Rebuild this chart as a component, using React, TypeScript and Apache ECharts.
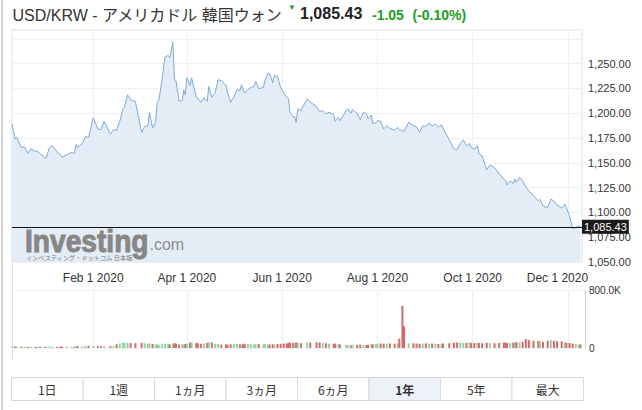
import React, { useEffect, useRef } from 'react';
import * as echarts from 'echarts';

const TITLE = 'USD/KRW - アメリカドル 韓国ウォン';
const LAST_PRICE = 1085.43;
const LAST_PRICE_TEXT = '1,085.43';
const CHANGE_TEXT = '-1.05';
const CHANGE_PCT_TEXT = '(-0.10%)';

const DATES = [
  '2019-12-11','2019-12-13','2019-12-14','2019-12-17','2019-12-19','2019-12-21','2019-12-23','2019-12-26','2019-12-27','2019-12-29',
  '2020-01-01','2020-01-02','2020-01-04','2020-01-06','2020-01-09','2020-01-11','2020-01-12','2020-01-15','2020-01-18','2020-01-20',
  '2020-01-21','2020-01-22','2020-01-25','2020-01-27','2020-01-29','2020-02-01','2020-02-04','2020-02-06','2020-02-08','2020-02-12',
  '2020-02-14','2020-02-16','2020-02-18','2020-02-20','2020-02-21','2020-02-23','2020-02-25','2020-02-28','2020-03-03','2020-03-05',
  '2020-03-07','2020-03-08','2020-03-10','2020-03-12','2020-03-13','2020-03-14','2020-03-16','2020-03-18','2020-03-20','2020-03-21',
  '2020-03-23','2020-03-24','2020-03-25','2020-03-27','2020-03-29','2020-03-30','2020-03-31','2020-04-01','2020-04-03','2020-04-04',
  '2020-04-07','2020-04-08','2020-04-10','2020-04-12','2020-04-14','2020-04-15','2020-04-17','2020-04-19','2020-04-21','2020-04-23',
  '2020-04-26','2020-04-27','2020-04-29','2020-05-01','2020-05-03','2020-05-05','2020-05-06','2020-05-07','2020-05-08','2020-05-10',
  '2020-05-12','2020-05-14','2020-05-15','2020-05-17','2020-05-20','2020-05-21','2020-05-23','2020-05-24','2020-05-26','2020-05-27',
  '2020-05-29','2020-05-31','2020-06-02','2020-06-04','2020-06-05','2020-06-06','2020-06-08','2020-06-09','2020-06-10','2020-06-11',
  '2020-06-13','2020-06-17','2020-06-19','2020-06-23','2020-06-25','2020-06-27','2020-06-29','2020-07-01','2020-07-04','2020-07-05',
  '2020-07-07','2020-07-08','2020-07-12','2020-07-13','2020-07-15','2020-07-16','2020-07-19','2020-07-21','2020-07-23','2020-07-25',
  '2020-07-26','2020-07-28','2020-07-29','2020-07-31','2020-08-01','2020-08-03','2020-08-05','2020-08-07','2020-08-09','2020-08-12',
  '2020-08-14','2020-08-15','2020-08-17','2020-08-18','2020-08-21','2020-08-24','2020-08-26','2020-08-28','2020-08-30','2020-09-01',
  '2020-09-03','2020-09-05','2020-09-07','2020-09-09','2020-09-11','2020-09-12','2020-09-16','2020-09-19','2020-09-21','2020-09-23',
  '2020-09-25','2020-09-27','2020-09-29','2020-09-30','2020-10-02','2020-10-04','2020-10-05','2020-10-07','2020-10-10','2020-10-12',
  '2020-10-15','2020-10-18','2020-10-21','2020-10-22','2020-10-23','2020-10-25','2020-10-27','2020-10-28','2020-10-29','2020-10-31',
  '2020-11-02','2020-11-04','2020-11-06','2020-11-09','2020-11-12','2020-11-13','2020-11-15','2020-11-18','2020-11-20','2020-11-22',
  '2020-11-24','2020-11-27','2020-11-29','2020-11-30','2020-12-02','2020-12-04','2020-12-06','2020-12-08','2020-12-09',
];

const PRICES = [
  1189.3, 1174.0, 1175.7, 1165.6, 1166.0, 1159.5, 1164.0, 1161.5, 1162.0, 1159.5,
  1154.9, 1155.5, 1165.6, 1167.3, 1160.5, 1158.2, 1155.5, 1158.2, 1160.5, 1159.5,
  1168.3, 1165.6, 1169.6, 1176.4, 1175.7, 1195.3, 1184.2, 1183.5, 1191.9, 1179.1,
  1183.5, 1183.0, 1191.9, 1204.5, 1206.1, 1218.6, 1213.6, 1211.9, 1180.8, 1186.8,
  1187.5, 1201.0, 1185.2, 1190.9, 1211.1, 1212.8, 1233.1, 1256.7, 1258.4, 1256.0,
  1271.9, 1233.8, 1233.1, 1212.1, 1212.8, 1223.7, 1218.6, 1235.8, 1228.0, 1235.8,
  1216.2, 1215.2, 1211.1, 1215.6, 1212.1, 1227.0, 1216.2, 1220.3, 1233.8, 1233.1,
  1228.0, 1221.3, 1211.1, 1216.2, 1223.7, 1223.0, 1228.7, 1223.7, 1220.3, 1223.7,
  1226.3, 1227.0, 1232.4, 1224.7, 1226.3, 1233.1, 1240.5, 1239.9, 1230.8, 1238.2,
  1237.2, 1226.3, 1220.3, 1216.2, 1214.6, 1201.0, 1196.0, 1196.6, 1190.9, 1204.5,
  1202.8, 1214.6, 1211.2, 1206.8, 1201.7, 1202.8, 1199.4, 1201.0, 1198.7, 1191.9,
  1196.0, 1192.6, 1202.7, 1204.5, 1200.0, 1203.7, 1200.0, 1193.6, 1201.0, 1199.4,
  1194.3, 1198.3, 1189.9, 1190.3, 1192.6, 1192.0, 1184.2, 1187.5, 1184.7, 1183.0,
  1185.8, 1183.5, 1182.5, 1181.8, 1190.9, 1187.5, 1186.5, 1180.8, 1187.5, 1186.8,
  1190.3, 1187.0, 1189.3, 1186.0, 1188.4, 1185.2, 1173.1, 1164.0, 1163.3, 1169.6,
  1173.1, 1167.3, 1169.6, 1165.6, 1164.0, 1167.3, 1158.9, 1157.2, 1143.0, 1147.8,
  1145.3, 1138.7, 1133.6, 1131.9, 1127.8, 1131.9, 1129.2, 1133.6, 1130.2, 1135.2,
  1131.9, 1125.8, 1121.8, 1116.7, 1111.6, 1113.3, 1106.6, 1104.9, 1113.4, 1111.6,
  1107.6, 1104.3, 1108.3, 1104.9, 1096.6, 1084.0, 1084.6, 1086.4, 1085.43,
];

// volume in thousands
const VOLUMES_K = [
  20, 22, 18, 16, 19, 17, 18, 15, 16, 18,
  14, 17, 19, 17, 16, 18, 17, 19, 16, 18,
  17, 26, 22, 30, 32, 28, 25, 24, 26, 25,
  24, 50, 62, 75, 70, 72, 68, 66, 70, 64,
  58, 62, 55, 50, 48, 45, 52, 60, 58, 50,
  62, 66, 60, 48, 52, 50, 55, 62, 75, 78,
  70, 65, 58, 62, 70, 82, 75, 60, 55, 48,
  50, 44, 52, 58, 55, 50, 56, 52, 60, 54,
  50, 48, 52, 55, 50, 54, 48, 50, 52, 50,
  55, 58, 60, 62, 70, 75, 72, 68, 78, 70,
  66, 78, 76, 80, 74, 70, 66, 60, 58, 62,
  54, 48, 42, 40, 38, 42, 40, 45, 38, 42,
  44, 48, 52, 55, 58, 62, 60, 58, 62, 60,
  64, 130, 580, 300, 62, 66, 62, 58, 60, 64,
  60, 62, 58, 55, 60, 62, 66, 72, 76, 74,
  70, 72, 76, 70, 68, 72, 70, 66, 72, 68,
  66, 70, 74, 72, 70, 68, 74, 76, 80, 78,
  85, 125, 110, 100, 98, 90, 85, 100, 110, 100,
  95, 92, 78, 72, 68, 60, 55, 50, 48,
];

const X_MIN = '2019-12-11';
const X_MAX = '2020-12-10';
const X_TICKS = ['2020-02-01', '2020-04-01', '2020-06-01', '2020-08-01', '2020-10-01', '2020-12-01'];
const Y_MIN = 1050;
const Y_MAX = 1284;
const Y_STEP = 25;
const Y_LABELS = [1050, 1075, 1100, 1125, 1150, 1175, 1200, 1225, 1250];
const VOL_MAX = 800000;
const VOL_LABELS = [0, 800000];
const MONTHS = ['Jan', 'Feb', 'Mar', 'Apr', 'May', 'Jun', 'Jul', 'Aug', 'Sep', 'Oct', 'Nov', 'Dec'];
const RANGE_BUTTONS = ['1日', '1週', '1ヵ月', '3ヵ月', '6ヵ月', '1年', '5年', '最大'];
const ACTIVE_RANGE = '1年';

const FONT = '"Liberation Sans", Arial, "Noto Sans CJK JP", sans-serif';
const CJK_FONT = '"Noto Sans CJK JP", "Liberation Sans", sans-serif';
const GREEN_TEXT = '#1e9e1e';
const UP = '#8fd4a2';
const DOWN = '#d66a6a';
const GRID_LINE = '#eef0f2';
const BORDER = '#e0e0e0';

function ts(s: string): number {
  const [y, m, d] = s.split('-').map(Number);
  return new Date(y, m - 1, d).getTime();
}

function fmtPrice(v: number): string {
  return v.toLocaleString('en-US', { minimumFractionDigits: 2, maximumFractionDigits: 2 });
}

function fmtDate(v: number): string {
  const d = new Date(v);
  return `${MONTHS[d.getMonth()]} ${d.getDate()} ${d.getFullYear()}`;
}

function buildOption(): any {
  const xTicks = X_TICKS.map(ts);
  const lastTick = xTicks[xTicks.length - 1];
  const priceData = DATES.map((d, i) => [ts(d), PRICES[i]]);
  const volData = DATES.map((d, i) => ({
    value: [ts(d), VOLUMES_K[i] * 1000],
    itemStyle: { color: i === 0 || PRICES[i] >= PRICES[i - 1] ? UP : DOWN },
  }));

  const buttonW = 71.5;
  const buttonX0 = 11.5;
  const buttons = RANGE_BUTTONS.map((label, i) => {
    const active = label === ACTIVE_RANGE;
    return {
      type: 'group',
      x: buttonX0 + i * buttonW,
      y: 377.5,
      silent: true,
      children: [
        {
          type: 'rect',
          shape: { x: 0, y: 0, width: buttonW, height: 23 },
          style: { fill: active ? '#edf2f8' : '#ffffff', stroke: '#d9d9d9', lineWidth: 1 },
        },
        {
          type: 'text',
          x: buttonW / 2,
          y: 12,
          style: {
            text: label,
            fontSize: 12,
            fontFamily: CJK_FONT,
            fontWeight: active ? 'bold' : 'normal',
            fill: '#333',
            align: 'center',
            verticalAlign: 'middle',
          },
        },
      ],
    };
  });

  const xAxisBase = {
    type: 'value',
    min: ts(X_MIN),
    max: ts(X_MAX),
    axisLine: { show: false },
    axisTick: { show: false, customValues: xTicks },
    splitLine: { show: true, lineStyle: { color: GRID_LINE, width: 1 } },
  };

  return {
    animation: false,
    backgroundColor: '#ffffff',
    textStyle: { fontFamily: FONT },
    grid: [
      { left: 12, top: 30, width: 570, height: 232, show: true, borderColor: BORDER, borderWidth: 1, backgroundColor: 'transparent', outerBoundsMode: 'none' },
      { left: 12, top: 290, width: 570, height: 58, show: false, outerBoundsMode: 'none' },
    ],
    xAxis: [
      {
        ...xAxisBase,
        gridIndex: 0,
        axisLabel: {
          customValues: xTicks,
          color: '#333',
          fontSize: 12,
          fontFamily: FONT,
          margin: 10,
          hideOverlap: false,
          formatter: (v: number) => (v === lastTick ? `{end|${fmtDate(v)}}` : fmtDate(v)),
          rich: {
            end: { color: '#333', fontSize: 12, fontFamily: FONT, padding: [0, 21, 0, 0] },
          },
        },
      },
      {
        ...xAxisBase,
        gridIndex: 1,
        axisLabel: { show: false },
      },
    ],
    yAxis: [
      {
        type: 'value',
        gridIndex: 0,
        position: 'right',
        min: Y_MIN,
        max: Y_MAX,
        interval: Y_STEP,
        axisLine: { show: false },
        axisTick: { show: false },
        splitLine: { show: true, lineStyle: { color: GRID_LINE, width: 1 } },
        axisLabel: {
          customValues: Y_LABELS,
          color: '#333',
          fontSize: 11,
          fontFamily: FONT,
          margin: 6,
          formatter: (v: number) => (Y_LABELS.indexOf(v) >= 0 ? fmtPrice(v) : ''),
        },
      },
      {
        type: 'value',
        gridIndex: 1,
        position: 'right',
        min: 0,
        max: VOL_MAX,
        interval: VOL_MAX,
        offset: 3,
        axisLine: { show: true, lineStyle: { color: '#c9d3df', width: 1 } },
        axisTick: { show: false },
        splitLine: { show: true, lineStyle: { color: GRID_LINE, width: 1 } },
        axisLabel: {
          customValues: VOL_LABELS,
          color: '#333',
          fontSize: 10,
          fontFamily: FONT,
          margin: 4,
          formatter: (v: number) => (v === 0 ? '0' : `${(v / 1000).toFixed(1)}K`),
        },
      },
    ],
    series: [
      {
        type: 'line',
        xAxisIndex: 0,
        yAxisIndex: 0,
        data: priceData,
        showSymbol: false,
        symbol: 'none',
        lineStyle: { color: '#7fa9d6', width: 1 },
        areaStyle: { color: '#e4edf5', opacity: 1, origin: 'start' },
        silent: true,
        z: 2,
        markLine: {
          silent: true,
          symbol: ['none', 'none'],
          lineStyle: { color: '#111', width: 1, type: 'solid' },
          label: {
            show: true,
            position: 'end',
            distance: 0,
            formatter: LAST_PRICE_TEXT,
            color: '#fff',
            backgroundColor: '#1b1b1b',
            fontSize: 11,
            fontFamily: FONT,
            padding: [2, 2, 1, 2],
          },
          data: [{ yAxis: LAST_PRICE }],
        },
      },
      {
        type: 'bar',
        xAxisIndex: 1,
        yAxisIndex: 1,
        data: volData,
        barWidth: 2,
        silent: true,
      },
    ],
    graphic: [
      { type: 'rect', silent: true, shape: { x: 1, y: 0, width: 2, height: 410 }, style: { fill: '#d2d2d2' } },
      { type: 'line', silent: true, shape: { x1: 12.5, y1: 262, x2: 12.5, y2: 360 }, style: { stroke: BORDER, lineWidth: 1 } },
      {
        type: 'text', silent: true, x: 12.5, y: 15.5,
        style: { text: TITLE, fontSize: 16, fontFamily: FONT, fill: '#333', verticalAlign: 'middle' },
      },
      {
        type: 'text', silent: true, x: 292, y: 7.5,
        style: { text: '▼', fontSize: 8, fontFamily: FONT, fill: GREEN_TEXT, align: 'center', verticalAlign: 'middle' },
      },
      {
        type: 'text', silent: true, x: 300, y: 13,
        style: { text: LAST_PRICE_TEXT, fontSize: 16, fontWeight: 'bold', fontFamily: FONT, fill: '#222', verticalAlign: 'middle' },
      },
      {
        type: 'text', silent: true, x: 372, y: 15,
        style: { text: CHANGE_TEXT, fontSize: 14, fontWeight: 'bold', fontFamily: FONT, fill: GREEN_TEXT, verticalAlign: 'middle' },
      },
      {
        type: 'text', silent: true, x: 412.5, y: 15,
        style: { text: CHANGE_PCT_TEXT, fontSize: 14, fontWeight: 'bold', fontFamily: FONT, fill: GREEN_TEXT, verticalAlign: 'middle' },
      },
      {
        type: 'text', silent: true, x: 25, y: 240.5, scaleX: 0.88, z: 10,
        style: { text: 'Investing', fontSize: 32, fontWeight: 'bold', fontFamily: FONT, fill: '#878787', stroke: '#878787', lineWidth: 1, verticalAlign: 'middle' },
      },
      {
        type: 'text', silent: true, x: 149.5, y: 244, z: 10,
        style: { text: '.com', fontSize: 16, fontFamily: FONT, fill: '#8c8c8c', verticalAlign: 'middle' },
      },
      {
        type: 'text', silent: true, x: 26, y: 257, z: 10,
        style: { text: 'インベスティング・ドットコム 日本版', fontSize: 6.2, fontFamily: CJK_FONT, fill: '#777', verticalAlign: 'middle' },
      },
      ...buttons,
    ],
  };
}

export default function App() {
  const ref = useRef<HTMLDivElement>(null);
  useEffect(() => {
    if (!ref.current) return;
    const chart = echarts.init(ref.current, null, { renderer: 'svg' });
    chart.setOption(buildOption());
    return () => {
      chart.dispose();
    };
  }, []);
  return (
    <div
      ref={ref}
      style={{ position: 'absolute', left: 0, top: 0, width: 642, height: 410, background: '#fff' }}
    />
  );
}
